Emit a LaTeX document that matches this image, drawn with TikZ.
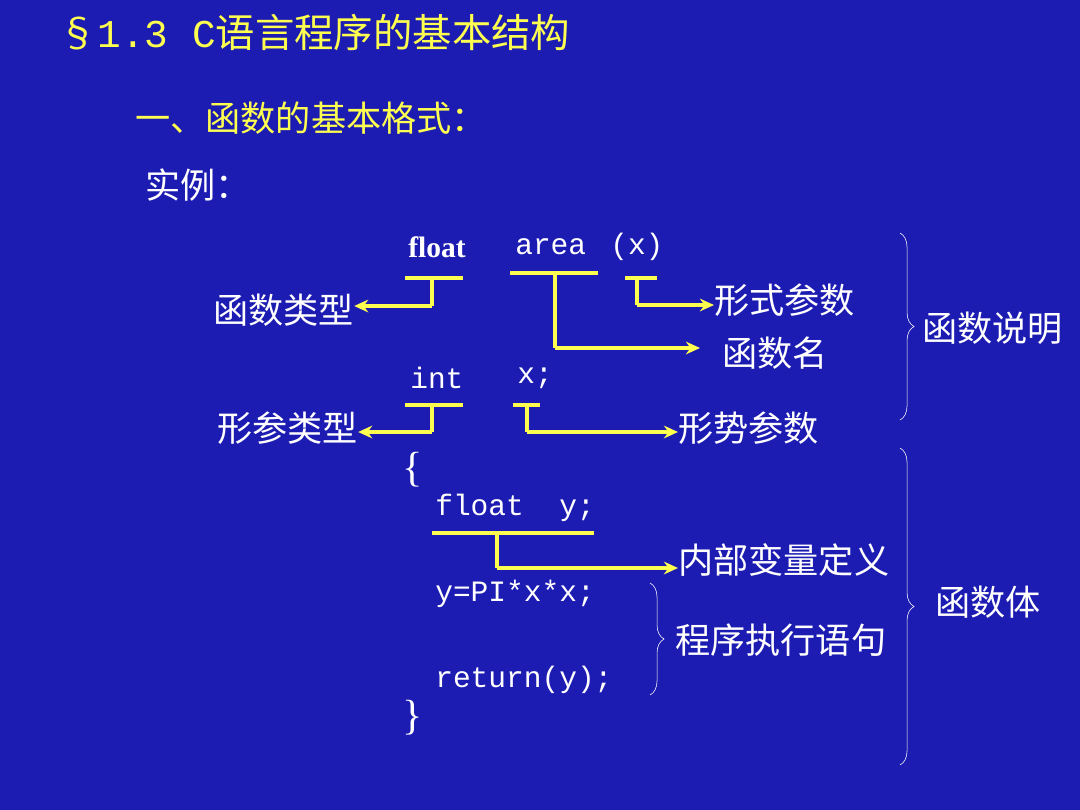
\documentclass[tikz,border=0pt]{standalone}
\usepackage{fontspec}
\setmainfont{Liberation Serif}
\setmonofont{Liberation Mono}
\newfontfamily\cjk{Noto Sans CJK SC}
\usetikzlibrary{arrows.meta,decorations.pathreplacing}
\definecolor{slideblue}{RGB}{28,28,178}
\definecolor{slideyellow}{RGB}{255,255,80}
\tikzset{
  cn/.style={font=\cjk\fontsize{25}{28}\selectfont, text=white, inner sep=0pt, anchor=west},
  code/.style={font=\ttfamily\fontsize{21}{24}\selectfont, text=white, inner sep=0pt, anchor=west},
  uline/.style={draw=slideyellow, line width=3pt},
  arr/.style={draw=slideyellow, line width=3pt, -{Stealth[length=10pt,width=9pt]}},
  brace/.style={draw=white, thin, decorate, decoration={brace, amplitude=10pt}}
}
\begin{document}
\begin{tikzpicture}[x=0.025cm, y=-0.025cm]
  \fill[slideblue] (0,0) rectangle (1080,810);
  \useasboundingbox (0,0) rectangle (1080,810);

  % Title
  \node[cn, text=slideyellow, font=\cjk\fontsize{28}{32}\selectfont] (title) at (58,32) {§{\ttfamily1.3 C}语言程序的基本结构};
  \node[cn, text=slideyellow] (sub) at (135,118) {一、函数的基本格式：};
  \node[cn] (demo) at (145,185) {实例：};

  % Header line
  \node[cn, font=\bfseries\fontsize{21}{24}\selectfont] (kfloat) at (408,247) {float};
  \node[code] (karea) at (515,247) {area};
  \node[code] (kx) at (610,247) {(x)};
  \node[cn] (ltype) at (213,310) {函数类型};
  \node[cn] (lname) at (722,353) {函数名};
  \node[cn] (lform) at (714,300) {形式参数};

  % Parameter declaration
  \node[code] (kint) at (410,378) {int};
  \node[code] (kxs) at (517,378) {x;};
  \node[cn] (lptype) at (217,428) {形参类型};
  \node[cn] (lpar) at (678,428) {形势参数};

  % Body
  \node[code, font=\fontsize{30}{32}\selectfont] (lb) at (402,470) {\{};
  \node[code] (kfy) at (435,508) {float\ \ y;};
  \node[code] (kexp) at (435,594) {y=PI*x*x;};
  \node[code] (kret) at (435,680) {return(y);};
  \node[code, font=\fontsize{30}{32}\selectfont] (rb) at (402,718) {\}};
  \node[cn] (lvar) at (678,560) {内部变量定义};
  \node[cn] (lexec) at (675,640) {程序执行语句};
  \node[cn] (ldecl) at (922,328) {函数说明};
  \node[cn] (lbody) at (935,602) {函数体};

  % Underlines and arrows
  \coordinate (c1) at (432,306);
  \draw[uline] (405,278) -- (463,278) (432,278) -- (c1);
  \draw[arr] (c1) -- (ltype.east |- c1);
  \coordinate (c2) at (555,348);
  \draw[uline] (510,273) -- (598,273) (555,273) -- (c2);
  \draw[arr] (c2) -- (700,348);
  \coordinate (c3) at (637,305);
  \draw[uline] (625,278) -- (657,278) (637,278) -- (c3);
  \draw[arr] (c3) -- (lform.west |- c3);

  \coordinate (c4) at (432,432);
  \draw[uline] (405,405) -- (463,405) (432,405) -- (c4);
  \draw[arr] (c4) -- (lptype.east |- c4);
  \coordinate (c5) at (527,432);
  \draw[uline] (513,405) -- (540,405) (527,405) -- (c5);
  \draw[arr] (c5) -- (lpar.west |- c5);

  \coordinate (c6) at (497,568);
  \draw[uline] (432,533) -- (594,533) (497,533) -- (c6);
  \draw[arr] (c6) -- (lvar.west |- c6);

  % Braces
  \draw[brace] (900,233) -- (900,420);
  \draw[brace] (900,448) -- (900,765);
  \draw[brace] (650,583) -- (650,695);
\end{tikzpicture}
\end{document}
